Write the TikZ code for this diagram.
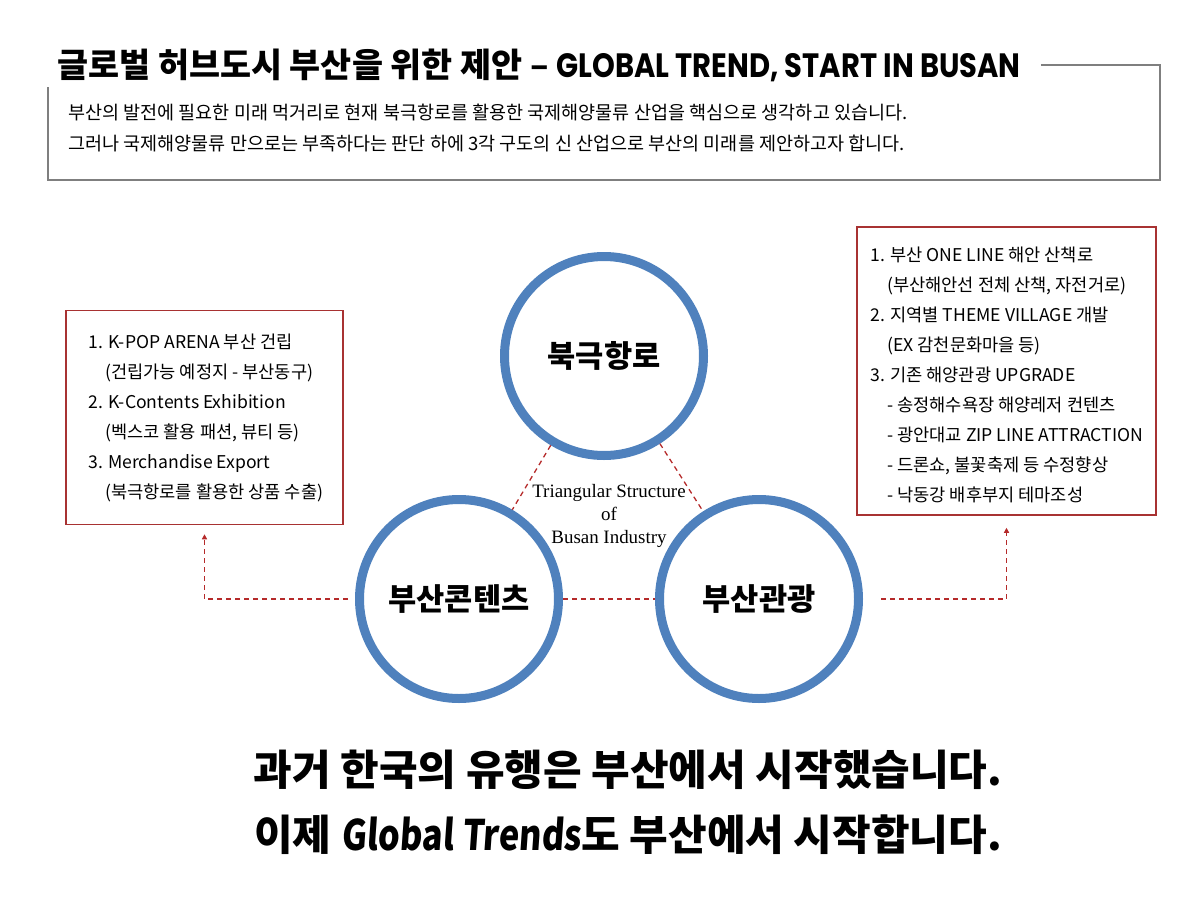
\documentclass[tikz,border=0pt]{standalone}
\usepackage{fontspec}
\setmainfont{Noto Sans CJK KR}
\newfontfamily\serifen{Liberation Serif}
\newfontfamily\geo[FakeStretch=0.86]{Poppins}
\newfontfamily\gtfont[FakeSlant=0.07,FakeStretch=0.82]{Noto Sans CJK KR}
\usetikzlibrary{arrows.meta}
\newdimen\pxu \pxu=0.75pt
\definecolor{cblue}{HTML}{4F81BD}
\definecolor{cred}{HTML}{A83232}
\definecolor{cdash}{HTML}{B52A2A}
\definecolor{cgray}{HTML}{7F7F7F}
\begin{document}
\begin{tikzpicture}[x=0.75pt,y=-0.75pt,
  ring/.style={circle, draw=cblue, line width=9\pxu, minimum size=199\pxu, inner sep=0pt,
    font=\bfseries\fontsize{23pt}{27pt}\selectfont},
  redbox/.style={draw=cred, line width=1.5\pxu, inner sep=0pt},
  boxtext/.style={inner sep=0pt, align=left, font=\fontsize{13.2pt}{22.5pt}\selectfont},
  link/.style={draw=cdash, dash pattern=on 5\pxu off 4\pxu, line width=1.3\pxu},
  tip/.style={-{Triangle[length=3.8pt, width=3.8pt]}},
  grayline/.style={draw=cgray, line width=2.5\pxu},
  introtext/.style={anchor=west, inner sep=0pt, font=\fontsize{13.9pt}{16pt}\selectfont},
  bigline/.style={inner sep=0pt, font=\bfseries\fontsize{31.5pt}{36pt}\selectfont}
]
\useasboundingbox (0,0) rectangle (1200,900);

% title and intro box
\node[anchor=west, inner sep=0pt] (title) at (57,65)
  {\fontsize{25.3pt}{30pt}\selectfont\bfseries 글로벌 허브도시 부산을 위한 제안 – {\geo GLOBAL TREND, START IN BUSAN}};
\draw[grayline] ([xshift=20\pxu]title.east) -| (1160,180) -| (48,87);
\node[introtext] (intro1) at (68,112)
  {부산의 발전에 필요한 미래 먹거리로 현재 북극항로를 활용한 국제해양물류 산업을 핵심으로 생각하고 있습니다.};
\node[introtext] (intro2) at (68,143)
  {그러나 국제해양물류 만으로는 부족하다는 판단 하에 3각 구도의 신 산업으로 부산의 미래를 제안하고자 합니다.};

% circles
\node[ring] (top) at (604,356) {북극항로};
\node[ring] (bl) at (459,599) {부산콘텐츠};
\node[ring] (br) at (759,599) {부산관광};

\draw[link] (top) -- (bl);
\draw[link] (top) -- (br);
\draw[link] (bl) -- (br);

\node[align=center, inner sep=0pt, font=\serifen\fontsize{14.2pt}{17.3pt}\selectfont] (tri) at (609,516)
  {Triangular Structure\\of\\Busan Industry};

% left box
\node[redbox, minimum width=277\pxu, minimum height=214\pxu] (lbox) at (204.5,417.5) {};
\node[boxtext, anchor=north west] (ltext) at (88,333.5)
  {1. K-POP ARENA 부산 건립\\
   \hspace*{17\pxu}(건립가능 예정지 - 부산동구)\\
   2. K-Contents Exhibition\\
   \hspace*{17\pxu}(벡스코 활용 패션, 뷰티 등)\\
   3. Merchandise Export\\
   \hspace*{17\pxu}(북극항로를 활용한 상품 수출)};

% right box
\node[redbox, minimum width=299\pxu, minimum height=288\pxu] (rbox) at (1006.5,371) {};
\node[boxtext, anchor=north west] (rtext) at (870,246.5)
  {1. 부산 ONE LINE 해안 산책로\\
   \hspace*{17\pxu}(부산해안선 전체 산책, 자전거로)\\
   2. 지역별 THEME VILLAGE 개발\\
   \hspace*{17\pxu}(EX 감천문화마을 등)\\
   3. 기존 해양관광 UPGRADE\\
   \hspace*{17\pxu}- 송정해수욕장 해양레저 컨텐츠\\
   \hspace*{17\pxu}- 광안대교 ZIP LINE ATTRACTION\\
   \hspace*{17\pxu}- 드론쇼, 불꽃축제 등 수정향상\\
   \hspace*{17\pxu}- 낙동강 배후부지 테마조성};

% arrows to boxes
\draw[link, tip, shorten <=7\pxu, shorten >=9\pxu] (bl.west) -| (lbox.south);
\draw[link, tip, shorten <=18\pxu, shorten >=12\pxu] (br.east) -| (rbox.south);

% bottom statements
\node[bigline] (s1) at (628,770) {과거 한국의 유행은 부산에서 시작했습니다.};
\node[bigline] (s2) at (628,835) {이제 {\gtfont Global Trends}도 부산에서 시작합니다.};
\end{tikzpicture}
\end{document}
